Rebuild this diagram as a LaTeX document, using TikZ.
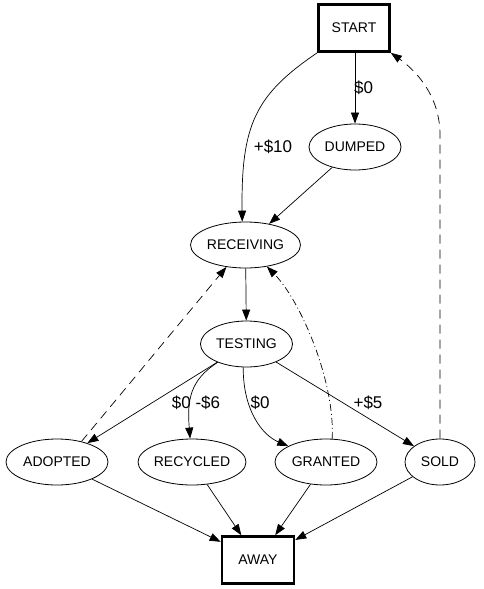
\documentclass[tikz,border=0pt]{standalone}
\usepackage{fontspec}
\setmainfont{Liberation Sans}
\usetikzlibrary{arrows.meta,shapes.geometric}
\begin{document}
\begin{tikzpicture}[x=1pt,y=-1pt,
  state/.style={draw, ellipse, line width=0.8pt, inner sep=0pt, font=\fontsize{14}{16}\selectfont},
  term/.style={draw, rectangle, line width=2.6pt, inner sep=0pt, font=\fontsize{14}{16}\selectfont},
  edge/.style={line width=0.7pt, -{Triangle[length=11pt,width=8pt]}},
  lbl/.style={font=\fontsize{17}{20}\selectfont, inner sep=0pt},
  dsh/.style={dash pattern=on 9pt off 6pt},
  dshdot/.style={dash pattern=on 7pt off 3pt on 1pt off 3pt}]
\useasboundingbox (0,0) rectangle (483,589);
\node[term, minimum width=71pt, minimum height=47pt] (start) at (354,28) {START};
\node[term, minimum width=72pt, minimum height=47pt] (away) at (258,560) {AWAY};
\node[state, minimum width=92pt, minimum height=46pt] (dumped) at (355,147) {DUMPED};
\node[state, minimum width=110pt, minimum height=46pt] (receiving) at (245.5,245) {RECEIVING};
\node[state, minimum width=92pt, minimum height=46pt] (testing) at (246.5,344) {TESTING};
\node[state, minimum width=102pt, minimum height=46pt] (adopted) at (57,462) {ADOPTED};
\node[state, minimum width=108pt, minimum height=46pt] (recycled) at (192,462) {RECYCLED};
\node[state, minimum width=102pt, minimum height=46pt] (granted) at (326,462) {GRANTED};
\node[state, minimum width=70pt, minimum height=46pt] (sold) at (440,462) {SOLD};
\coordinate (bend) at (440,135);
% edges
\draw[edge] (start.south -| dumped.north) -- (dumped.north);
\node[lbl, anchor=west] (l0) at (354,88) {\$0};
\draw[edge] (start.south west) .. controls (255,95) and (241,125) .. (receiving.98);
\node[lbl] (l10) at (273,147) {+\$10};
\draw[edge] (dumped) -- (receiving);
\draw[edge] (receiving) -- (testing);
\draw[edge] (testing) -- (adopted);
\draw[edge] (testing) .. controls (190,380) and (187,400) .. (recycled);
\node[lbl] (l6) at (196,403) {\$0 -\$6};
\draw[edge] (testing.262) .. controls (243,410) and (262,435) .. (granted);
\node[lbl] (l00) at (260,403) {\$0};
\draw[edge] (testing) -- (sold);
\node[lbl] (l5) at (368,403) {+\$5};
\draw[edge] (adopted) -- (away);
\draw[edge] (recycled) -- (away);
\draw[edge] (granted) -- (away);
\draw[edge] (sold) -- (away);
\draw[edge, dsh] (adopted.40) -- (receiving.229);
\draw[edge, dshdot] (granted.75) .. controls (335,380) and (300,300) .. (receiving);
\draw[edge, dsh] (sold.north) -- (bend) .. controls (440,95) and (415,70) .. (start.south east);
\end{tikzpicture}
\end{document}
